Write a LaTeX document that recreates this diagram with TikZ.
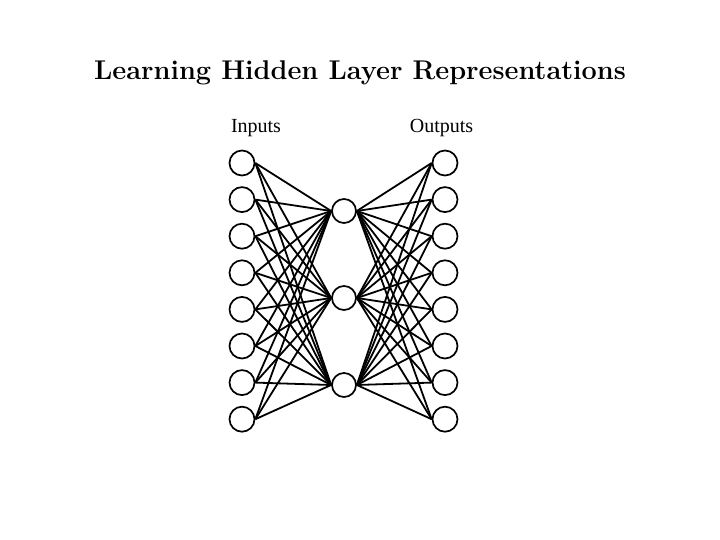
\documentclass[tikz,border=0pt]{standalone}
\usepackage{fontspec}
\newfontfamily\labelfont{Liberation Serif}
\begin{document}
\begin{tikzpicture}[x=1pt,y=-1pt,
  unit/.style={circle,draw,line width=1.7pt,minimum size=25pt,inner sep=0pt},
  conn/.style={line width=1.8pt},
  lbl/.style={font=\labelfont\fontsize{20}{24}\selectfont,anchor=base}]
\useasboundingbox (0,0) rectangle (720,540);
\node[anchor=base] (title) at (360,80) {\fontsize{27.1}{31}\selectfont\bfseries Learning Hidden Layer Representations};
\node[lbl] (inl) at (256,133) {Inputs};
\node[lbl] (outl) at (441.5,133) {Outputs};
\foreach \i in {0,...,7} {
  \node[unit] (in\i) at (242,{163+36.6*\i}) {};
  \node[unit] (out\i) at (445,{163+36.6*\i}) {};
}
\foreach \j/\y in {0/211,1/298,2/385} {
  \node[unit,minimum size=24pt] (h\j) at (344,\y) {};
}
\foreach \i in {0,...,7} {
  \foreach \j in {0,1,2} {
    \draw[conn] (in\i.east) -- (h\j.west);
    \draw[conn] (h\j.east) -- (out\i.west);
  }
}
\end{tikzpicture}
\end{document}
